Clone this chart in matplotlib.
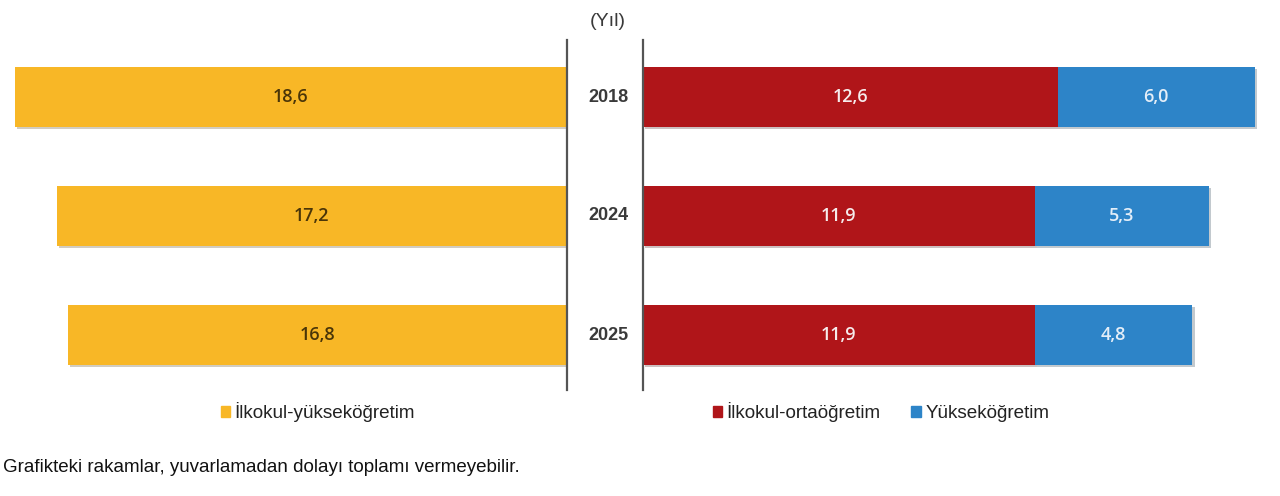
import matplotlib
matplotlib.use("Agg")
import matplotlib.pyplot as plt
import matplotlib.patheffects as pe
from matplotlib.transforms import blended_transform_factory

years = ["2018", "2024", "2025"]
ilkokul_yuksek = [18.6, 17.2, 16.8]
ilkokul_orta = [12.6, 11.9, 11.9]
yuksek = [6.0, 5.3, 4.8]

YELLOW = "#F8B726"
RED = "#B01519"
BLUE = "#2D84C8"
LINE = "#555555"

plt.rcParams['font.family'] = ['Liberation Sans', 'DejaVu Sans']

W, H = 1280, 496
fig = plt.figure(figsize=(W / 100, H / 100), dpi=100)

top_px, bot_px = 40, 390
axb = 1 - bot_px / H
axh = (bot_px - top_px) / H

axL = fig.add_axes([0, axb, 567 / W, axh])
axR = fig.add_axes([643 / W, axb, (W - 643) / W, axh])

pos = list(range(len(years)))
bh = 0.505
shadow = [pe.SimplePatchShadow(offset=(1.5, -1.5), alpha=0.25), pe.Normal()]

bL = axL.barh(pos, ilkokul_yuksek, height=bh, color=YELLOW, label="İlkokul-yükseköğretim")
bR1 = axR.barh(pos, ilkokul_orta, height=bh, color=RED, label="İlkokul-ortaöğretim")
bR2 = axR.barh(pos, yuksek, left=ilkokul_orta, height=bh, color=BLUE, label="Yükseköğretim")
for b in list(bL) + list(bR1) + list(bR2):
    b.set_path_effects(shadow)

axL.set_xlim(567 / 29.68, 0)
axR.set_xlim(0, (W - 643) / 32.9)
c0 = 97 - top_px
cy = 119
for ax in (axL, axR):
    ax.set_ylim((bot_px - top_px - c0) / cy, -c0 / cy)
    ax.set_xticks([])
    ax.set_yticks([])
    for s in ax.spines.values():
        s.set_visible(False)
axL.spines['right'].set_visible(True)
axL.spines['right'].set_color(LINE)
axL.spines['right'].set_linewidth(1.6)
axR.spines['left'].set_visible(True)
axR.spines['left'].set_color(LINE)
axR.spines['left'].set_linewidth(1.6)

vfont = dict(family=['Open Sans', 'DejaVu Sans'], fontsize=13, fontweight=600)
for i, v in enumerate(ilkokul_yuksek):
    axL.text(v / 2, i, f"{v:.1f}".replace(".", ","), ha="center", va="center", color="#4A3508", **vfont)
for i, (a, b) in enumerate(zip(ilkokul_orta, yuksek)):
    axR.text(a / 2, i, f"{a:.1f}".replace(".", ","), ha="center", va="center", color="#F6ECEC", **vfont)
    axR.text(a + b / 2, i, f"{b:.1f}".replace(".", ","), ha="center", va="center", color="#E4EEF8", **vfont)

tr = blended_transform_factory(fig.transFigure, axR.transData)
for i, y in enumerate(years):
    fig.text(608 / W, i, y, transform=tr, ha="center", va="center", fontsize=13,
             fontweight="bold", color="#3a3a3a")
fig.text(608 / W, 1 - 22 / H, "(Yıl)", ha="center", va="center", fontsize=14, color="#3a3a3a")

legkw = dict(frameon=False, fontsize=13.6, handlelength=0.5, handleheight=0.5,
             handletextpad=0.25, borderaxespad=0, labelcolor="#222222")
lh = [plt.Rectangle((0, 0), 1, 1, color=c) for c in (YELLOW, RED, BLUE)]
fig.legend(lh[:1], ["İlkokul-yükseköğretim"], loc="center left",
           bbox_to_anchor=(213 / W, 1 - 412 / H), **legkw)
fig.legend(lh[1:], ["İlkokul-ortaöğretim", "Yükseköğretim"], loc="center left",
           bbox_to_anchor=(705 / W, 1 - 412 / H), ncol=2, columnspacing=1.6, **legkw)

fig.text(3 / W, 1 - 467 / H, "Grafikteki rakamlar, yuvarlamadan dolayı toplamı vermeyebilir.",
         ha="left", va="center", fontsize=13.5, color="#111111")

fig.savefig("out.png", dpi=100)
